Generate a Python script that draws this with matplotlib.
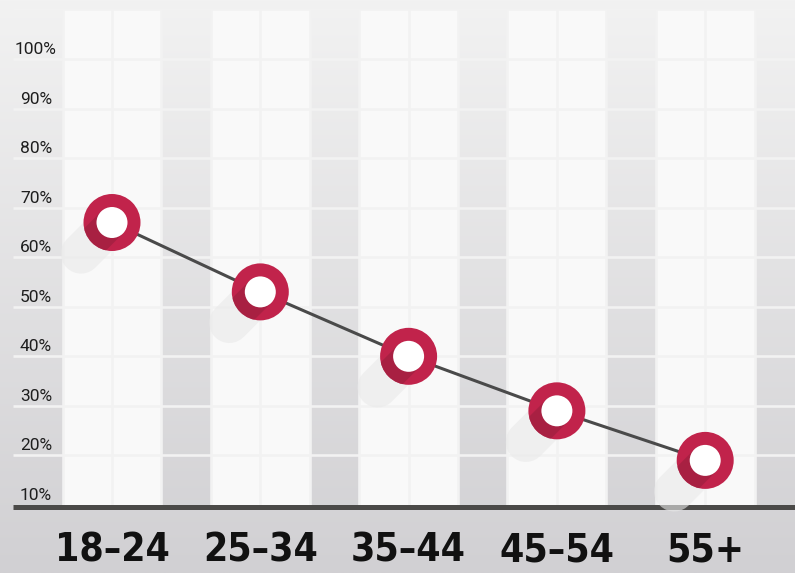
import numpy as np
import matplotlib
matplotlib.use("Agg")
import matplotlib.pyplot as plt
import matplotlib.transforms as mtrans
from matplotlib import font_manager as fm
from matplotlib.patches import Rectangle, Circle, Polygon

# ---- data ----
groups = ["18\u201324", "25\u201334", "35\u201344", "45\u201354", "55+"]
share = [67, 53, 40, 29, 19]
yticks = [10, 20, 30, 40, 50, 60, 70, 80, 90, 100]
ytick_labels = ["10%", "20%", "30%", "40%", "50%", "60%", "70%", "80%", "90%", "100%"]

CRIMSON = "#c1234b"; DARKCR = "#9e1f3f"; LINE = "#4a4a4a"; AXIS = "#4b4a48"
WHITE_CELL = "#f9f9f9"; GAP = "#f2f2f2"

# a condensed bold face for the big category labels, if one is installed
cond = None
for f in fm.fontManager.ttflist:
    nm = (f.name + " " + str(f.stretch)).lower()
    if ("condensed" in nm or "narrow" in nm) and f.weight in ("bold", 700, "heavy", 800, 900):
        cond = f.fname
        break

W, H, DPI = 795, 573, 100
fig = plt.figure(figsize=(W / DPI, H / DPI), dpi=DPI)
ax = fig.add_axes([0, 0, 1, 1])
ax.set_axis_off()

# pixel <-> data mapping: category i at x=112+148.3*i px, 10 pts of y = 49.56 px
XP, X0 = 148.3, 112.0
YP, Y0 = 4.956, 505.0
xlim = (-X0 / XP, (W - X0) / XP)
ylim = (10 - (H - Y0) / YP, 10 + Y0 / YP)
ax.set_xlim(*xlim)
ax.set_ylim(*ylim)

# background gradient
grad = np.linspace(0, 1, 256)[:, None, None]
c_top = np.array([0xf2, 0xf2, 0xf2]) / 255
c_bot = np.array([0xd1, 0xd0, 0xd3]) / 255
img = c_top * (1 - grad) + c_bot * grad
img = np.repeat(img, 2, axis=1)
ax.imshow(img, extent=[xlim[0], xlim[1], ylim[0], ylim[1]], origin="upper",
          aspect="auto", zorder=0)

# grid of cells: three columns per group, two white + one grey
cw = 1 / 3
x_left = -2 * cw
y_lo, y_hi = 10, 110
for j in range(16):
    xl = x_left + j * cw
    if j % 3 != 0:
        ax.add_patch(Rectangle((xl, y_lo), cw, y_hi - y_lo, fc=WHITE_CELL, ec="none", zorder=1))
    if j > 0:
        ax.plot([xl, xl], [y_lo, y_hi], color=GAP, lw=1.9, zorder=2, solid_capstyle="butt")
for yv in range(20, 111, 10):
    ax.plot([x_left, 5], [yv, yv], color=GAP, lw=1.9, zorder=2, solid_capstyle="butt")

# base axis line
ax.plot([x_left, 5], [9.5, 9.5], color=AXIS, lw=3.6, zorder=3, solid_capstyle="butt")

# y labels
for v, lab in zip(yticks, ytick_labels):
    ax.text(-0.5125, v + 1.0, lab, ha="center", va="baseline", fontsize=12.5,
            family=["Roboto", "DejaVu Sans"], color="#1e1e1e", zorder=4)

# x labels
x = np.arange(len(groups))
if cond is not None:
    xfont = dict(fontproperties=fm.FontProperties(fname=cond, size=28))
else:
    xfont = dict(fontsize=24, fontweight="bold", family="DejaVu Sans")
for i, g in enumerate(groups):
    ax.text(x[i], 0.9, g, ha="center", va="center", color="#111111", zorder=4, **xfont)

# connecting line
ax.plot(x, share, color=LINE, lw=2.2, zorder=5)

# markers with long shadow
R_OUT, R_IN = 28.5, 15.5
d = np.array([-1.0, -1.0]) / np.sqrt(2)
n = np.array([-1.0, 1.0]) / np.sqrt(2)
L = 45
for xi, yi in zip(x, share):
    tr = mtrans.Affine2D().scale(1 / DPI) + fig.dpi_scale_trans + mtrans.ScaledTranslation(xi, yi, ax.transData)
    # soft long shadow on the background
    ax.plot([-4, -31], [-4, -31], transform=tr, color="#e9e9e9", alpha=0.6, lw=29,
            solid_capstyle="round", zorder=4)
    ring = Circle((0, 0), R_OUT, transform=tr, fc=CRIMSON, ec="none", zorder=6)
    ax.add_patch(ring)
    band = Polygon([R_IN * n, R_IN * n + L * d, -R_IN * n + L * d, -R_IN * n],
                   closed=True, transform=tr, fc=DARKCR, ec="none", alpha=0.7, zorder=7)
    ax.add_patch(band)
    band.set_clip_path(ring)
    ax.add_patch(Circle((0, 0), R_IN, transform=tr, fc="white", ec="none", zorder=8))

fig.savefig("out.png", dpi=DPI)
